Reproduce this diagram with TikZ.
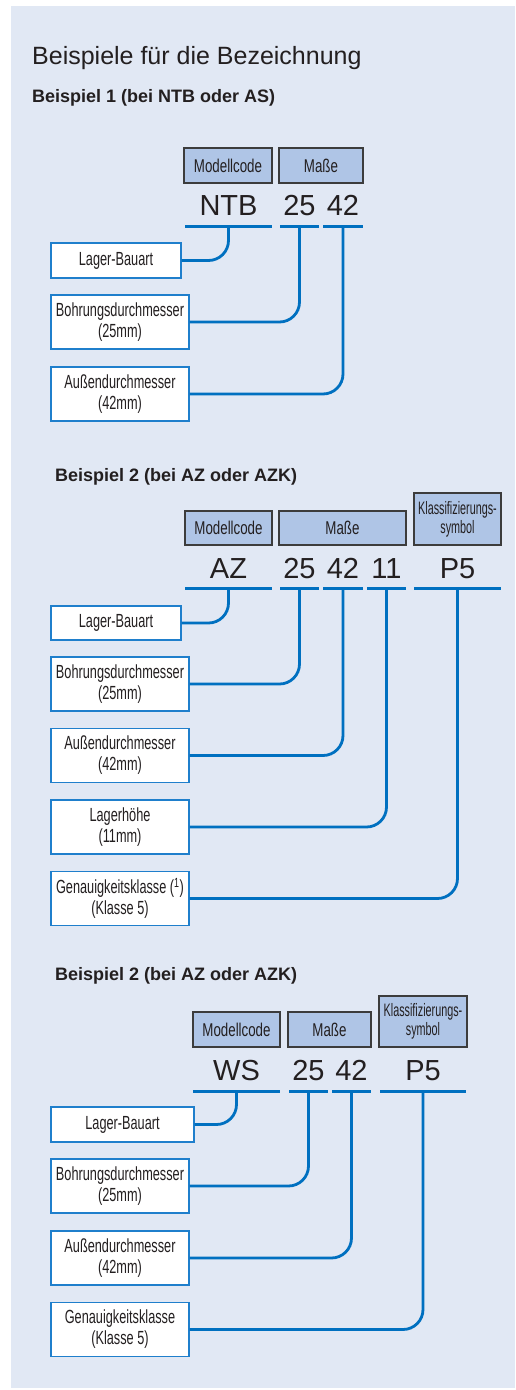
\documentclass[tikz,border=0pt]{standalone}
\usepackage{fontspec}
\setmainfont{Liberation Sans}
\newfontfamily\condf[FakeStretch=0.67]{Liberation Sans}
\newfontfamily\condh[FakeStretch=0.72]{Liberation Sans}
\newfontfamily\condk[FakeStretch=0.6]{Liberation Sans}
\definecolor{bgc}{HTML}{E1E8F4}
\definecolor{hdrfill}{HTML}{AFC5E6}
\definecolor{hdrborder}{HTML}{3C3C3C}
\definecolor{lineblue}{HTML}{0070C0}
\definecolor{boxborder}{HTML}{1F7FCC}
\definecolor{textc}{HTML}{231F20}
\begin{document}
\begin{tikzpicture}[x=1pt,y=-1pt,
  every node/.style={text=textc},
  hdr/.style={draw=hdrborder, fill=hdrfill, line width=1.2pt, inner sep=0pt,
    font=\condh\fontsize{18.5}{20}\selectfont, align=center},
  hdrk/.style={hdr, font=\condk\fontsize{18}{19}\selectfont},
  lbox/.style={draw=boxborder, fill=white, line width=1.2pt, inner sep=0pt,
    font=\condf\fontsize{19}{21}\selectfont, align=center, minimum width=138pt, minimum height=54pt},
  uline/.style={fill=lineblue, draw=none, inner sep=0pt, minimum height=3pt},
  code/.style={anchor=base, inner sep=0pt, font=\fontsize{29}{32}\selectfont},
  conn/.style={draw=lineblue, line width=2.8pt, rounded corners=20pt},
  ttl/.style={anchor=base west, inner sep=0pt, font=\fontsize{25}{30}\selectfont},
  sub/.style={anchor=base west, inner sep=0pt, font=\bfseries\fontsize{18}{22}\selectfont}
]
\useasboundingbox (0,0) rectangle (515,1390);
\fill[bgc] (11,6) rectangle (515,1388);

\node[ttl] (title) at (32,64) {Beispiele für die Bezeichnung};

% ---------------- Example 1
\node[sub] (s1) at (32,102) {Beispiel 1 (bei NTB oder AS)};
\node[hdr, minimum width=88pt, minimum height=35pt] (mc1) at (228,165.5) {Modellcode};
\node[hdr, minimum width=84pt, minimum height=35pt] (ms1) at (321,165.5) {Maße};
\node[uline, minimum width=87pt] (u1a) at (228.5,226) {};
\node[uline, minimum width=39pt] (u1b) at (299.5,226) {};
\node[uline, minimum width=40pt] (u1c) at (343,226) {};
\node[code] (c1a) at (228.5,215) {NTB};
\node[code] (c1b) at (299.5,215) {25};
\node[code] (c1c) at (343,215) {42};
\node[lbox, minimum width=130pt, minimum height=35pt] (lb1) at (116,260.5) {Lager-Bauart};
\node[lbox] (bd1) at (120,322) {Bohrungsdurchmesser\\(25mm)};
\node[lbox] (ad1) at (120,394) {Außendurchmesser\\(42mm)};
\draw[conn] (u1a.center) |- (lb1.east);
\draw[conn] (u1b.center) |- (bd1.east);
\draw[conn] (u1c.center) |- (ad1.east);

% ---------------- Example 2
\node[sub] (s2) at (55,481) {Beispiel 2 (bei AZ oder AZK)};
\node[hdr, minimum width=87pt, minimum height=34pt] (mc2) at (228.5,528) {Modellcode};
\node[hdr, minimum width=127pt, minimum height=34pt] (ms2) at (342.5,528) {Maße};
\node[hdrk, minimum width=87pt, minimum height=52pt] (ks2) at (457.5,519) {Klassifizierungs-\\symbol};
\node[uline, minimum width=87pt] (u2a) at (228.5,588) {};
\node[uline, minimum width=39pt] (u2b) at (299.5,588) {};
\node[uline, minimum width=40pt] (u2c) at (343,588) {};
\node[uline, minimum width=39pt] (u2d) at (386.5,588) {};
\node[uline, minimum width=87pt] (u2e) at (457.5,588) {};
\node[code] (c2a) at (228.5,578) {AZ};
\node[code] (c2b) at (299.5,578) {25};
\node[code] (c2c) at (343,578) {42};
\node[code] (c2d) at (386.5,578) {11};
\node[code] (c2e) at (457.5,578) {P5};
\node[lbox, minimum width=130pt, minimum height=34pt] (lb2) at (116,623) {Lager-Bauart};
\node[lbox] (bd2) at (120,684) {Bohrungsdurchmesser\\(25mm)};
\node[lbox] (ad2) at (120,755.5) {Außendurchmesser\\(42mm)};
\node[lbox] (lh2) at (120,827) {Lagerhöhe\\(11mm)};
\node[lbox] (gk2) at (120,898.5) {Genauigkeitsklasse (\textsuperscript{1})\\(Klasse 5)};
\draw[conn] (u2a.center) |- (lb2.east);
\draw[conn] (u2b.center) |- (bd2.east);
\draw[conn] (u2c.center) |- (ad2.east);
\draw[conn] (u2d.center) |- (lh2.east);
\draw[conn] (u2e.center) |- (gk2.east);

% ---------------- Example 3
\node[sub] (s3) at (55,980) {Beispiel 2 (bei AZ oder AZK)};
\node[hdr, minimum width=87pt, minimum height=35pt] (mc3) at (236.5,1029.5) {Modellcode};
\node[hdr, minimum width=83pt, minimum height=35pt] (ms3) at (329.5,1029.5) {Maße};
\node[hdrk, minimum width=88pt, minimum height=51pt] (ks3) at (423,1021.5) {Klassifizierungs-\\symbol};
\node[uline, minimum width=87pt] (u3a) at (236.5,1091) {};
\node[uline, minimum width=39pt] (u3b) at (308.5,1091) {};
\node[uline, minimum width=39pt] (u3c) at (351.5,1091) {};
\node[uline, minimum width=86pt] (u3d) at (423,1091) {};
\node[code] (c3a) at (236.5,1080) {WS};
\node[code] (c3b) at (308.5,1080) {25};
\node[code] (c3c) at (351.5,1080) {42};
\node[code] (c3d) at (423,1080) {P5};
\node[lbox, minimum width=143pt, minimum height=35pt] (lb3) at (122.5,1124.5) {Lager-Bauart};
\node[lbox] (bd3) at (120,1186) {Bohrungsdurchmesser\\(25mm)};
\node[lbox] (ad3) at (120,1258) {Außendurchmesser\\(42mm)};
\node[lbox] (gk3) at (120,1329.5) {Genauigkeitsklasse\\(Klasse 5)};
\draw[conn] (u3a.center) |- (lb3.east);
\draw[conn] (u3b.center) |- (bd3.east);
\draw[conn] (u3c.center) |- (ad3.east);
\draw[conn] (u3d.center) |- (gk3.east);
\end{tikzpicture}
\end{document}
